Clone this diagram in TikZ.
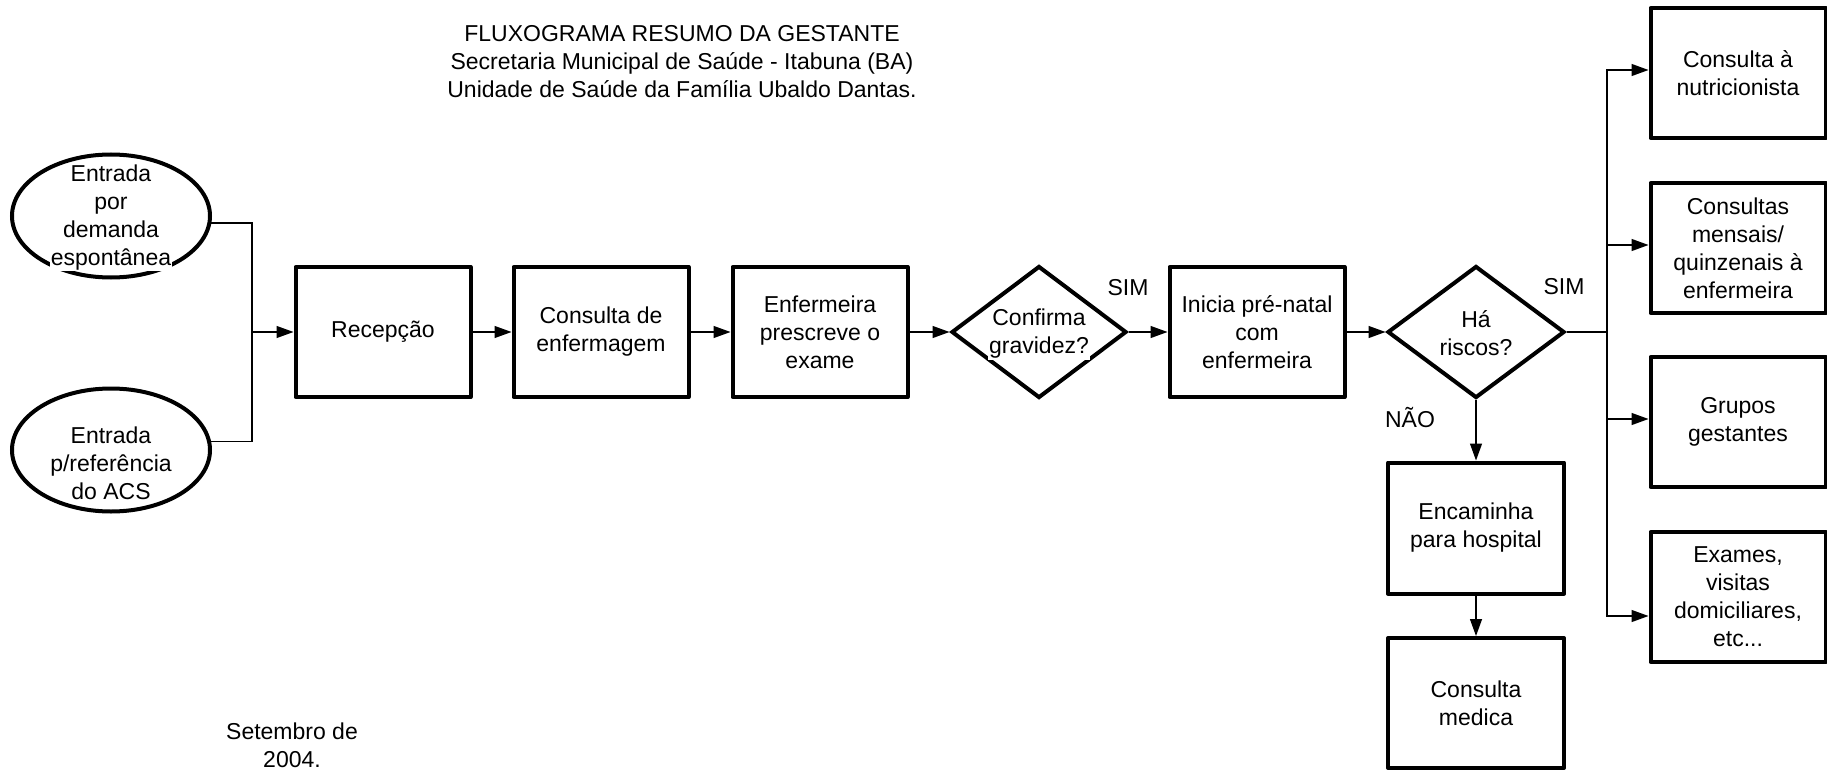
\documentclass[tikz,border=0pt]{standalone}
\usepackage{fontspec}
\setmainfont{Liberation Sans}
\usetikzlibrary{shapes.geometric,arrows.meta,calc}
\begin{document}
\begin{tikzpicture}[x=1pt,y=-1pt,
  every node/.style={font=\fontsize{23}{28}\selectfont, align=center, inner sep=0pt},
  procbox/.style={draw, line width=4pt, line join=round, minimum width=#1, minimum height=130pt},
  procbox/.default=175pt,
  startshape/.style={draw, ellipse, line width=4pt, minimum width=198pt, minimum height=123pt},
  decision/.style={draw, diamond, line width=4pt, line join=miter},
  conn/.style={line width=1.3pt},
  arr/.style={conn, -{Triangle[length=17pt,width=12pt]}}
]
\useasboundingbox (0,0) rectangle (1827,770);

% title and date
\node (title) at (682,62) {FLUXOGRAMA RESUMO DA GESTANTE\\Secretaria Municipal de Saúde - Itabuna (BA)\\Unidade de Saúde da Família Ubaldo Dantas.};
\node (date) at (292,745) {Setembro de\\2004.};

% entries
\node[startshape] (e1) at (111,216) {};
\node (e1t) at (111,218) {Entrada\\por\\demanda\\{\setlength{\fboxsep}{1pt}\colorbox{white}{espontânea}}};
\node[startshape] (e2) at (111,450) {};
\node (e2t) at (111,463) {Entrada\\p/referência\\do ACS};

% main row
\node[procbox] (rec) at (383,332) {Recepção};
\node[procbox] (cons) at (601,332) {Consulta de\\enfermagem};
\node[procbox] (enf) at (820,332) {Enfermeira\\prescreve o\\exame};
\node[decision, minimum width=175pt, minimum height=132pt] (conf) at (1039,332) {};
\node[fill=white, inner sep=1pt] (conft) at (1039,334) {Confirma\\gravidez?};
\node[procbox] (ini) at (1257,332) {Inicia pré-natal\\com\\enfermeira};
\node[decision, minimum width=177pt, minimum height=132pt] (ha) at (1476,332) {};
\node (hat) at (1476,333) {Há\\riscos?};

% lower branch
\node[procbox=176pt, minimum height=131pt] (enc) at (1476,528) {Encaminha\\para hospital};
\node[procbox=176pt] (med) at (1476,703) {Consulta\\medica};

% right column
\node[procbox] (r1) at (1738,73) {Consulta à\\nutricionista};
\node[procbox] (r2) at (1738,248) {Consultas\\mensais/\\quinzenais à\\enfermeira};
\node[procbox] (r3) at (1738,422) {Grupos\\gestantes};
\node[procbox] (r4) at (1738,597) {Exames,\\visitas\\domiciliares,\\etc...};

% labels
\node (sim1) at (1128,288) {SIM};
\node (sim2) at (1564,287) {SIM};
\node (nao) at (1410,418) {NÃO};

% connectors
\coordinate (j) at (252,332);
\coordinate (jr) at (1607,332);
\draw[conn] (e1.-4) -| (j);
\draw[conn] (e2.5) -| (j);
\draw[arr] (j) -- (rec.west);
\draw[arr] (rec.east) -- (cons.west);
\draw[arr] (cons.east) -- (enf.west);
\draw[arr] (enf.east) -- (conf.west);
\draw[arr] (conf.east) -- (ini.west);
\draw[arr] (ini.east) -- (ha.west);
\draw[arr] (ha.south) -- (enc.north);
\draw[arr] (enc.south) -- (med.north);
\draw[conn] (ha.east) -- (jr);
\draw[arr] (jr) |- ($(r1.west)+(0,-3)$);
\draw[arr] (jr) |- ($(r2.west)+(0,-3)$);
\draw[arr] (jr) |- ($(r3.west)+(0,-3)$);
\draw[arr] (jr) |- ($(r4.west)+(0,19)$);
\end{tikzpicture}
\end{document}
